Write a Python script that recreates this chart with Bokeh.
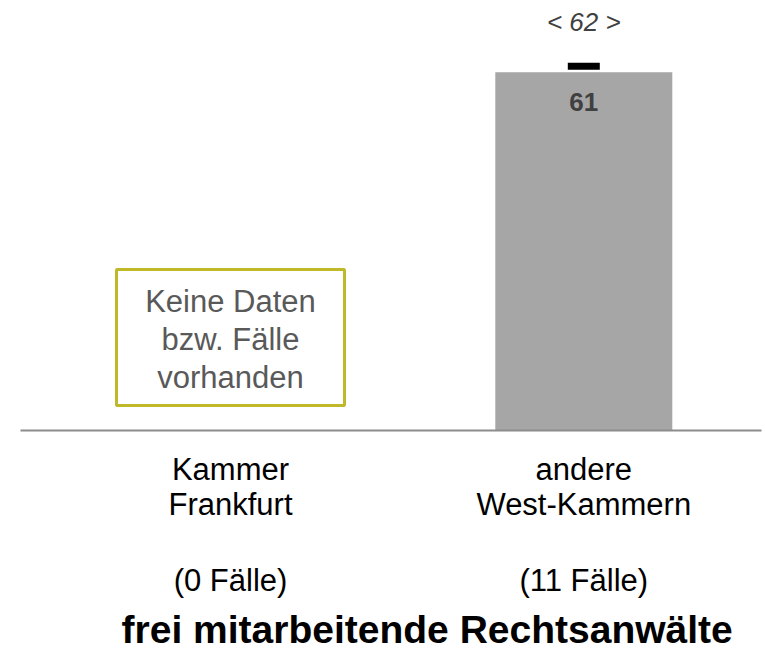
from bokeh.plotting import figure
from bokeh.models import Range1d, ColumnDataSource
from bokeh.core.properties import value
from bokeh.embed import file_html
from bokeh.resources import INLINE

# ---- data ----
categories = ["Kammer Frankfurt", "andere West-Kammern"]
label_line1 = ["Kammer", "andere"]
label_line2 = ["Frankfurt", "West-Kammern"]
cases = ["(0 Fälle)", "(11 Fälle)"]
values = [None, 61]          # Kammer Frankfurt: keine Daten
reference_values = [None, 62]  # comparison marker
no_data_text = ["Keine Daten", "bzw. Fälle", "vorhanden"]
title_text = "frei mitarbeitende Rechtsanwälte"

FONT = value("Liberation Sans")

W, H = 765, 654
x_px_per_unit = 353.3
y_px_per_unit = 5.874
x0_px, y0_px = 230.0, 430.0  # position of category 0 / value 0 inside frame

p = figure(width=W, height=H, output_backend="svg", toolbar_location=None,
           min_border=0, outline_line_color=None)
p.x_range = Range1d(-x0_px / x_px_per_unit, (W - x0_px) / x_px_per_unit)
p.y_range = Range1d(-(H - y0_px) / y_px_per_unit, y0_px / y_px_per_unit)
p.axis.visible = False
p.grid.visible = False
p.background_fill_color = "white"
p.border_fill_color = "white"

xs = list(range(len(categories)))
bar_x = [x for x, v in zip(xs, values) if v is not None]
bar_v = [v for v in values if v is not None]
ref_x = [x for x, v in zip(xs, reference_values) if v is not None]
ref_v = [v for v in reference_values if v is not None]
nod_x = [x for x, v in zip(xs, values) if v is None]

# bars
bars = ColumnDataSource(dict(x=bar_x, top=bar_v, lab=[str(v) for v in bar_v]))
p.vbar(x="x", top="top", bottom=0, width=177 / x_px_per_unit, source=bars,
       fill_color="#a6a6a6", line_color=None)
p.text(x="x", y="top", text="lab", source=bars, text_font=FONT,
       text_font_size="26px", text_font_style="bold", text_color="#404040",
       text_align="center", text_baseline="alphabetic", y_offset=30)

# reference marker
refs = ColumnDataSource(dict(x=ref_x, y=ref_v, lab=[f"< {v} >" for v in ref_v]))
p.rect(x="x", y="y", width=32, height=7, width_units="screen", height_units="screen",
       source=refs, fill_color="black", line_color=None)
p.text(x="x", y="y", text="lab", source=refs, text_font=FONT,
       text_font_size="26px", text_font_style="italic", text_color="#404040",
       text_align="center", text_baseline="alphabetic", y_offset=-44)

# baseline
p.segment(x0=p.x_range.start + 20 / x_px_per_unit, y0=0,
          x1=p.x_range.start + 761 / x_px_per_unit, y1=0,
          line_color="#8c8c8c", line_width=2)

# no-data box
for x in nod_x:
    p.rect(x=[x], y=[(430 - 337) / y_px_per_unit], width=228, height=136,
           width_units="screen", height_units="screen",
           fill_color=None, line_color="#bfb92a", line_width=3)
    for i, t in enumerate(no_data_text):
        p.text(x=[x], y=[0], text=[t], text_font=FONT, text_font_size="31px",
               text_color="#595959", text_align="center",
               text_baseline="alphabetic", y_offset=-129 + 38 * i)

# category labels
lab = ColumnDataSource(dict(x=xs, l1=label_line1, l2=label_line2, c=cases))
for col, off in (("l1", 39), ("l2", 74), ("c", 150)):
    p.text(x="x", y=0, text=col, source=lab, text_font=FONT,
           text_font_size="31px", text_color="black", text_align="center",
           text_baseline="alphabetic", y_offset=off)

# title
p.text(x=[sum(xs) / len(xs)], y=[0], text=[title_text], text_font=FONT,
       text_font_size="39px", text_font_style="bold", text_color="black",
       text_align="center", text_baseline="alphabetic", x_offset=20, y_offset=199)

open("out.html", "w").write(file_html(p, INLINE))
